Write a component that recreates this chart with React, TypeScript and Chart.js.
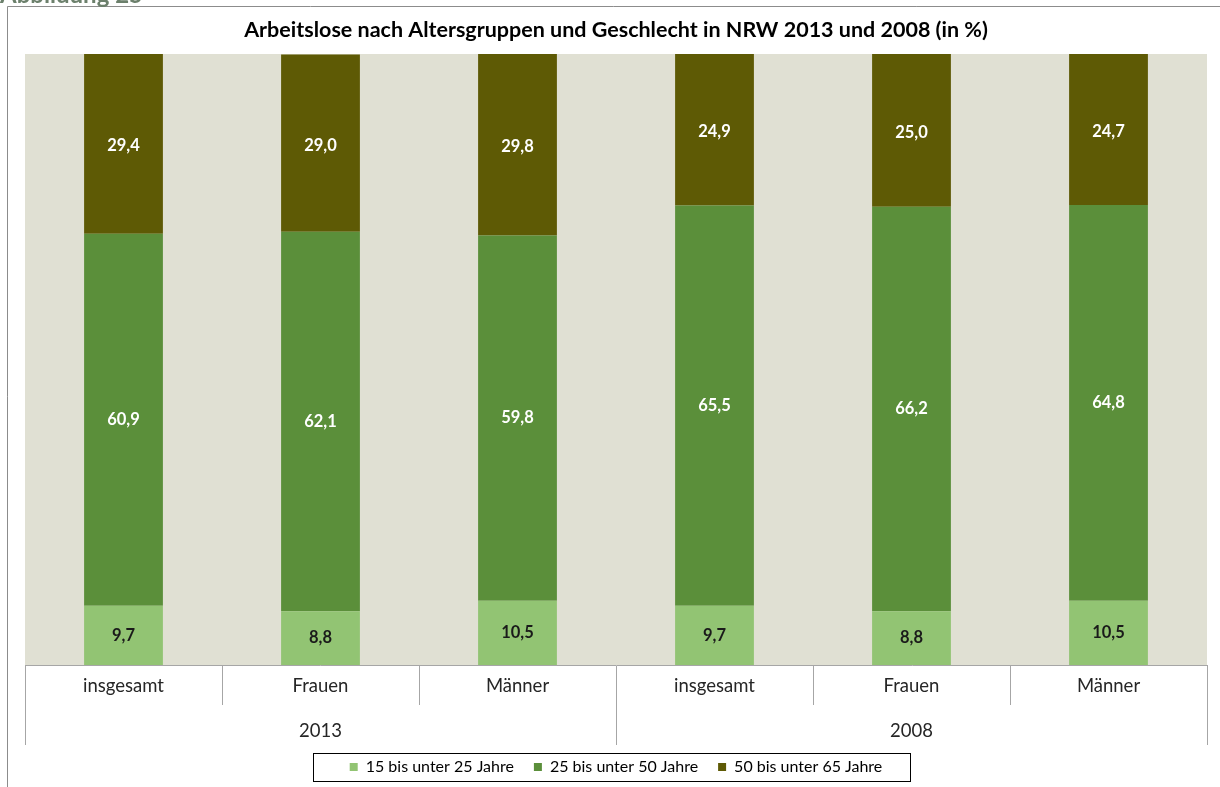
import React, { useEffect, useRef } from 'react';
import { Chart, registerables } from 'chart.js';

Chart.register(...registerables);

const figureLabel = 'Abbildung 25';
const chartTitle = 'Arbeitslose nach Altersgruppen und Geschlecht in NRW 2013 und 2008 (in %)';
const categories = ['insgesamt', 'Frauen', 'Männer', 'insgesamt', 'Frauen', 'Männer'];
const groups = ['2013', '2008'];
const seriesNames = ['15 bis unter 25 Jahre', '25 bis unter 50 Jahre', '50 bis unter 65 Jahre'];
const age15to25 = [9.7, 8.8, 10.5, 9.7, 8.8, 10.5];
const age25to50 = [60.9, 62.1, 59.8, 65.5, 66.2, 64.8];
const age50to65 = [29.4, 29.0, 29.8, 24.9, 25.0, 24.7];

const FONT = 'Lato, "Open Sans", sans-serif';
const COLORS = ['#92C473', '#5B8F3A', '#5E5A05'];
const LABEL_COLORS = ['#1a1a1a', '#ffffff', '#ffffff'];
const GRID = '#A6A6A6';

const backgroundPlugin = {
  id: 'bgFrame',
  beforeDraw(chart: any) {
    const { ctx, chartArea, width, height } = chart;
    ctx.save();
    ctx.fillStyle = '#ffffff';
    ctx.fillRect(0, 0, width, height);
    ctx.fillStyle = '#E0E0D3';
    ctx.fillRect(chartArea.left, chartArea.top, chartArea.right - chartArea.left, chartArea.bottom - chartArea.top);
    ctx.strokeStyle = '#8c8c8c';
    ctx.lineWidth = 1;
    ctx.beginPath();
    ctx.moveTo(7.5, height);
    ctx.lineTo(7.5, 6.5);
    ctx.lineTo(width, 6.5);
    ctx.stroke();
    ctx.fillStyle = '#6c806c';
    ctx.font = 'bold 24px ' + FONT;
    ctx.textBaseline = 'alphabetic';
    ctx.textAlign = 'left';
    ctx.fillText(figureLabel, 0, 3);
    ctx.restore();
  },
};

const valueLabelPlugin = {
  id: 'valueLabels',
  afterDatasetsDraw(chart: any) {
    const { ctx } = chart;
    ctx.save();
    ctx.font = 'bold 16.5px ' + FONT;
    ctx.textAlign = 'center';
    ctx.textBaseline = 'middle';
    chart.data.datasets.forEach((ds: any, di: number) => {
      const meta = chart.getDatasetMeta(di);
      meta.data.forEach((bar: any, i: number) => {
        const v = ds.data[i];
        const top = Math.max(bar.y, chart.chartArea.top);
        const yMid = (top + bar.base) / 2 + (di === 2 ? 2 : 0);
        ctx.fillStyle = LABEL_COLORS[di];
        ctx.fillText(v.toFixed(1).replace('.', ','), bar.x, yMid);
      });
    });
    ctx.restore();
  },
};

const legendBorderPlugin = {
  id: 'legendBorder',
  afterDraw(chart: any) {
    const lg = chart.legend;
    if (!lg || !lg.legendHitBoxes || !lg.legendHitBoxes.length) return;
    const hb = lg.legendHitBoxes;
    const first = hb[0];
    const last = hb[hb.length - 1];
    const cy = first.top + first.height / 2;
    const left = Math.round(first.left - 37) + 0.5;
    const right = Math.round(last.left + last.width + 28) + 0.5;
    const top = Math.round(cy - 14) + 0.5;
    const bottom = Math.round(cy + 14) + 0.5;
    const { ctx } = chart;
    ctx.save();
    ctx.strokeStyle = '#000000';
    ctx.lineWidth = 1;
    ctx.strokeRect(left, top, right - left, bottom - top);
    ctx.restore();
  },
};

export default function App() {
  const canvasRef = useRef<HTMLCanvasElement | null>(null);

  useEffect(() => {
    const canvas = canvasRef.current;
    if (!canvas) return;
    const chart = new Chart(canvas, {
      type: 'bar',
      data: {
        labels: categories,
        datasets: [
          { label: seriesNames[0], data: age15to25, backgroundColor: COLORS[0], categoryPercentage: 1, barPercentage: 0.4 },
          { label: seriesNames[1], data: age25to50, backgroundColor: COLORS[1], categoryPercentage: 1, barPercentage: 0.4 },
          { label: seriesNames[2], data: age50to65, backgroundColor: COLORS[2], categoryPercentage: 1, barPercentage: 0.4 },
        ],
      },
      options: {
        responsive: false,
        animation: false,
        devicePixelRatio: 1,
        layout: { padding: { left: 25, right: 13, top: 0, bottom: 2 } },
        plugins: {
          title: {
            display: true,
            text: chartTitle,
            color: '#000000',
            font: { family: FONT, size: 21.5, weight: 'bold', lineHeight: 1.2 },
            padding: { top: 17, bottom: 11.2 },
          },
          legend: {
            position: 'bottom',
            labels: {
              boxWidth: 8,
              boxHeight: 8,
              padding: 20,
              color: '#000000',
              font: { family: FONT, size: 16 },
            },
          },
          tooltip: { enabled: false },
        },
        scales: {
          x: {
            type: 'category',
            stacked: true,
            offset: true,
            grid: { display: true, offset: true, drawOnChartArea: false, tickLength: 40, color: GRID },
            border: { display: true, color: GRID },
            ticks: { color: '#262626', font: { family: FONT, size: 18.5 }, padding: -30, maxRotation: 0, autoSkip: false },
            afterFit: (s: any) => { s.height = 40; },
          },
          x2: {
            type: 'category',
            labels: groups,
            position: 'bottom',
            offset: true,
            grid: { display: true, offset: true, drawOnChartArea: false, tickLength: 40, color: GRID },
            border: { display: false },
            ticks: { color: '#262626', font: { family: FONT, size: 18.5 }, padding: -25, maxRotation: 0, autoSkip: false },
            afterFit: (s: any) => { s.height = 34; },
          },
          y: {
            stacked: true,
            display: false,
            min: 0,
            max: 100,
          },
        },
      },
      plugins: [backgroundPlugin, valueLabelPlugin, legendBorderPlugin],
    } as any);
    return () => chart.destroy();
  }, []);

  return (
    <div style={{ position: 'absolute', left: 0, top: 0, width: 1220, height: 787 }}>
      <canvas ref={canvasRef} width={1220} height={787} style={{ display: 'block', width: 1220, height: 787 }} />
    </div>
  );
}
